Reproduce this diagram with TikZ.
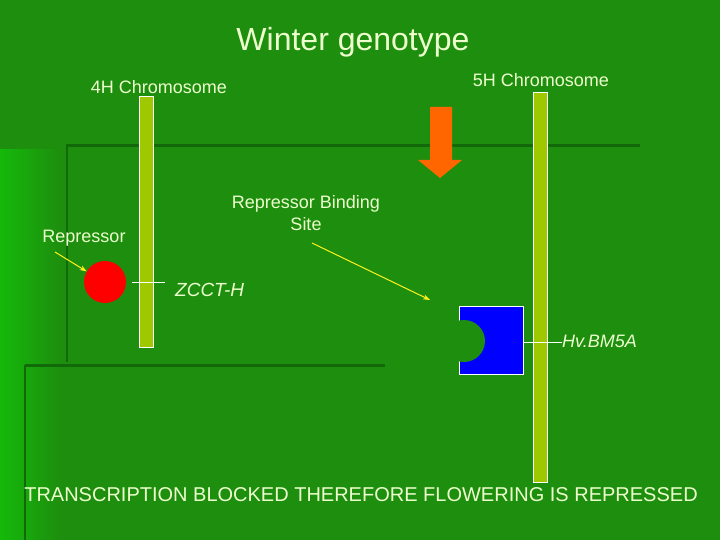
\documentclass[tikz,border=0pt]{standalone}
\usepackage{fontspec}
\setmainfont{Liberation Sans}
\usetikzlibrary{shapes,calc,arrows.meta}
\definecolor{slidegreen}{RGB}{30,142,14}
\definecolor{darkline}{RGB}{18,105,10}
\definecolor{barcol}{RGB}{160,200,0}
\definecolor{txtcol}{RGB}{236,255,205}
\definecolor{arrowor}{RGB}{255,102,0}
\definecolor{lightgreen}{RGB}{20,185,10}
\tikzstyle{lbl}=[text=txtcol,inner sep=0pt]
\tikzstyle{bar}=[draw=white,fill=barcol,line width=0.8pt]
\tikzstyle{ptr}=[draw=yellow!90!white,line width=1pt,-{Stealth[length=7pt,width=5pt]}]
\begin{document}
\begin{tikzpicture}[x=1pt,y=-1pt]
\useasboundingbox (0,0) rectangle (720,540);
\fill[slidegreen] (0,0) rectangle (720,540);
\shade[left color=lightgreen,right color=slidegreen] (0,150) rectangle (60,540);
% template lines
\draw[darkline,line width=3pt] (66,146) -- (640,146);
\draw[darkline,line width=2pt] (67,146) -- (67,362);
\draw[darkline,line width=3pt] (25,365) -- (385,365);
\draw[darkline,line width=1.5pt] (25,365) -- (25,540);
% chromosomes
\node[bar,minimum width=14,minimum height=251,inner sep=0pt] (c4) at (146,221.5) {};
\node[bar,minimum width=14,minimum height=390,inner sep=0pt] (c5) at (540,287) {};
\node[lbl,font=\fontsize{18}{20}\selectfont] (t4) at (159,87) {4H Chromosome};
\node[lbl,font=\fontsize{18}{20}\selectfont] (t5) at (541,80) {5H Chromosome};
\node[lbl,font=\fontsize{32}{34}\selectfont] (title) at (353,42) {Winter genotype};
% orange arrow
\fill[arrowor] (430,107) -- (452,107) -- (452,160) -- (462,160) -- (440,178) -- (418,160) -- (430,160) -- cycle;
% repressor
\node[circle,fill=red,minimum size=42,inner sep=0pt] (rep) at (105,282) {};
\node[lbl,font=\fontsize{18}{20}\selectfont] (trep) at (84,238) {Repressor};
\coordinate (rs) at (55,252);
\draw[ptr] (rs) -- (rep.150);
\coordinate (zt) at (132,282);
\coordinate (ze) at (165,282);
\draw[white,line width=0.8pt] (zt) -- (ze);
\node[lbl,font=\itshape\fontsize{19}{21}\selectfont,anchor=west] (zcct) at (175,290) {ZCCT-H};
% binding site
\node[draw=white,fill=blue,minimum width=64,minimum height=68,inner sep=0pt,line width=0.8pt] (gene) at (491,340) {};
\node[circle,fill=slidegreen,minimum size=42,inner sep=0pt] (site) at (464,341) {};
\node[lbl,font=\fontsize{18}{22}\selectfont,align=center] (tsite) at (306,213) {Repressor Binding\\Site};
\coordinate (ss) at (312,243);
\coordinate (se) at (430,300);
\draw[ptr] (ss) -- (se);
\coordinate (ht) at (gene.east|-0,342);
\coordinate (he) at (562,342);
\draw[white,line width=0.8pt] (ht) -- (he);
\node[lbl,font=\itshape\fontsize{18}{20}\selectfont,anchor=west] (hv) at (562,341) {Hv.BM5A};
\node[lbl,font=\fontsize{20}{22}\selectfont] (bottom) at (361,495) {TRANSCRIPTION BLOCKED THEREFORE FLOWERING IS REPRESSED};
\end{tikzpicture}
\end{document}
